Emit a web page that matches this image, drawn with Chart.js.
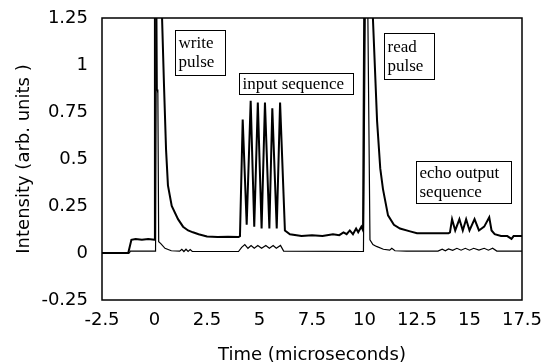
<!DOCTYPE html>
<html>
<head>
<meta charset="utf-8">
<script src="https://cdn.jsdelivr.net/npm/chart.js@4"></script>
<style>
  html, body { margin: 0; padding: 0; background: #fff; }
  #wrap { width: 548px; height: 362px; }
</style>
</head>
<body>
<div id="wrap"><canvas id="chart" width="548" height="362"></canvas></div>
<script>
// Tick labels
const xTicks = [-2.5, 0, 2.5, 5, 7.5, 10, 12.5, 15, 17.5];
const yTicks = [-0.25, 0, 0.25, 0.5, 0.75, 1, 1.25];

// Upper trace (offset, thicker)
const upperTime = [
    -2.5, -1.25, -1.1, -0.9, -0.6, -0.3, 0.0, 0.02, 0.3, 0.36, 0.45, 0.55, 0.64, 0.82,
    1.12, 1.36, 1.6, 1.83, 2.1, 2.5, 3.0, 3.5, 4.0, 4.07, 4.2, 4.39, 4.58, 4.75, 4.92,
    5.1, 5.26, 5.47, 5.61, 5.82, 5.98, 6.21, 6.45, 7.0, 7.5, 8.0, 8.5, 8.8, 9.0, 9.15,
    9.3, 9.45, 9.6, 9.7, 9.85, 9.93, 10.0, 10.3, 10.4, 10.6, 10.75, 10.88, 11.12, 11.4,
    11.69, 12.17, 12.5, 13.0, 13.5, 14.0, 14.07, 14.17, 14.32, 14.52, 14.68, 14.84, 15.0,
    15.24, 15.45, 15.7, 15.94, 16.05, 16.2, 16.5, 16.8, 17.0, 17.1, 17.5
];
const upperIntensity = [
    0.0, 0.0, 0.07, 0.075, 0.07, 0.075, 0.07, 1.6, 1.6, 1.25, 0.9, 0.55, 0.36, 0.25,
    0.18, 0.14, 0.12, 0.11, 0.1, 0.088, 0.085, 0.087, 0.085, 0.09, 0.71, 0.15, 0.81, 0.14, 0.8,
    0.13, 0.8, 0.13, 0.77, 0.13, 0.8, 0.12, 0.1, 0.09, 0.095, 0.09, 0.1, 0.095, 0.11, 0.1,
    0.12, 0.1, 0.13, 0.11, 0.14, 0.12, 1.6, 1.6, 1.25, 0.7, 0.45, 0.34, 0.2, 0.15,
    0.13, 0.115, 0.105, 0.105, 0.105, 0.105, 0.11, 0.18, 0.12, 0.18, 0.12, 0.18, 0.12,
    0.18, 0.12, 0.14, 0.19, 0.12, 0.1, 0.09, 0.09, 0.075, 0.09, 0.09
];

// Lower trace (thin)
const lowerTime = [
    -2.5, -1.2, -1.15, 0.05, 0.1, 0.13, 0.16, 0.2, 0.3, 0.5, 0.8, 1.2, 1.3, 1.4, 1.5,
    1.6, 1.7, 1.8, 4.0, 4.15, 4.3, 4.45, 4.6, 4.75, 4.92, 5.1, 5.3, 5.47, 5.65, 5.8,
    6.0, 6.15, 9.95, 10.05, 10.14, 10.26, 10.4, 10.57, 10.9, 11.2, 11.3, 11.45, 12.0,
    13.5, 13.7, 13.85, 14.0, 14.2, 14.4, 14.6, 14.8, 15.0, 15.2, 15.45, 15.7, 15.9,
    16.1, 16.3, 17.5
];
const lowerIntensity = [
    0.0, 0.0, 0.01, 0.01, 1.5, 0.87, 0.85, 0.06, 0.05, 0.025, 0.012, 0.01, 0.02, 0.008, 0.02,
    0.008, 0.018, 0.008, 0.008, 0.03, 0.045, 0.025, 0.04, 0.025, 0.04, 0.025, 0.04, 0.025, 0.04, 0.025,
    0.04, 0.01, 0.008, 1.5, 1.5, 0.07, 0.045, 0.035, 0.02, 0.015, 0.025, 0.012, 0.01,
    0.01, 0.02, 0.012, 0.022, 0.014, 0.025, 0.015, 0.025, 0.015, 0.025, 0.015, 0.025, 0.015,
    0.025, 0.01, 0.01
];

// Boxed labels, corners in data units
const noteText = [['write', 'pulse'], ['input sequence'], ['read', 'pulse'], ['echo output', 'sequence']];
const noteLeft = [0.98, 4.02, 10.93, 12.45];
const noteRight = [3.36, 9.45, 13.31, 16.96];
const noteTop = [1.186, 0.955, 1.168, 0.491];
const noteBottom = [0.945, 0.848, 0.924, 0.268];

const axisFont = 'DejaVu Sans';

function toPoints(xs, ys) {
    return xs.map((x, i) => ({ x: x, y: ys[i] }));
}

// Frame around the plot area and the boxed notes
const framePlugin = {
    id: 'frame',
    afterDatasetsDraw(chart) {
        const ctx = chart.ctx;
        const area = chart.chartArea;
        const xs = chart.scales.x;
        const ys = chart.scales.y;
        ctx.save();
        ctx.strokeStyle = '#000';
        ctx.lineWidth = 1.5;
        ctx.strokeRect(area.left, area.top, area.right - area.left, area.bottom - area.top);

        ctx.font = '17px "Liberation Serif", "Times New Roman", serif';
        ctx.textBaseline = 'alphabetic';
        ctx.textAlign = 'left';
        const lineStep = 19;
        for (let i = 0; i < noteText.length; i++) {
            const l = Math.round(xs.getPixelForValue(noteLeft[i])) + 0.5;
            const r = Math.round(xs.getPixelForValue(noteRight[i])) + 0.5;
            const t = Math.round(ys.getPixelForValue(noteTop[i])) + 0.5;
            const b = Math.round(ys.getPixelForValue(noteBottom[i])) + 0.5;
            ctx.fillStyle = '#fff';
            ctx.fillRect(l, t, r - l, b - t);
            ctx.lineWidth = 1;
            ctx.strokeStyle = '#000';
            ctx.strokeRect(l, t, r - l, b - t);
            ctx.fillStyle = '#000';
            const pad = ((b - t) - noteText[i].length * lineStep) / 2;
            noteText[i].forEach((line, j) => {
                ctx.fillText(line, l + 3, t + pad + 14 + j * lineStep);
            });
        }
        ctx.restore();
    }
};

const ctx = document.getElementById('chart').getContext('2d');
const chart = new Chart(ctx, {
    type: 'scatter',
    data: {
        datasets: [
            {
                label: 'upper',
                data: toPoints(upperTime, upperIntensity),
                showLine: true,
                borderColor: '#000',
                borderWidth: 2,
                pointRadius: 0,
                tension: 0
            },
            {
                label: 'lower',
                data: toPoints(lowerTime, lowerIntensity),
                showLine: true,
                borderColor: '#000',
                borderWidth: 1.2,
                pointRadius: 0,
                tension: 0
            }
        ]
    },
    options: {
        responsive: false,
        animation: false,
        layout: { padding: { top: 18, right: 26, left: 0, bottom: 0 } },
        plugins: {
            legend: { display: false },
            tooltip: { enabled: false }
        },
        scales: {
            x: {
                type: 'linear',
                min: -2.5,
                max: 17.5,
                afterBuildTicks: (scale) => { scale.ticks = xTicks.map(v => ({ value: v })); },
                afterFit: (scale) => {
                    scale.height = 62;
                    scale.paddingLeft = 0;
                    scale.paddingRight = 0;
                },
                grid: { display: false, drawTicks: false },
                border: { display: false },
                ticks: {
                    color: '#000',
                    padding: 10,
                    maxRotation: 0,
                    autoSkip: false,
                    font: { family: axisFont, size: 18 },
                    callback: (v) => String(v)
                },
                title: {
                    display: true,
                    text: 'Time (microseconds)',
                    color: '#000',
                    padding: { top: 0, bottom: -4 },
                    font: { family: axisFont, size: 18 }
                }
            },
            y: {
                type: 'linear',
                min: -0.25,
                max: 1.25,
                afterBuildTicks: (scale) => { scale.ticks = yTicks.map(v => ({ value: v })); },
                afterFit: (scale) => {
                    scale.width = 102;
                    scale.paddingTop = 0;
                    scale.paddingBottom = 0;
                },
                grid: { display: false, drawTicks: false },
                border: { display: false },
                ticks: {
                    color: '#000',
                    padding: 14,
                    autoSkip: false,
                    font: { family: axisFont, size: 18 },
                    callback: (v) => String(v)
                },
                title: {
                    display: true,
                    text: 'Intensity (arb. units )',
                    color: '#000',
                    padding: { top: 14, bottom: 0 },
                    font: { family: axisFont, size: 18 }
                }
            }
        }
    },
    plugins: [framePlugin]
});
</script>
</body>
</html>
